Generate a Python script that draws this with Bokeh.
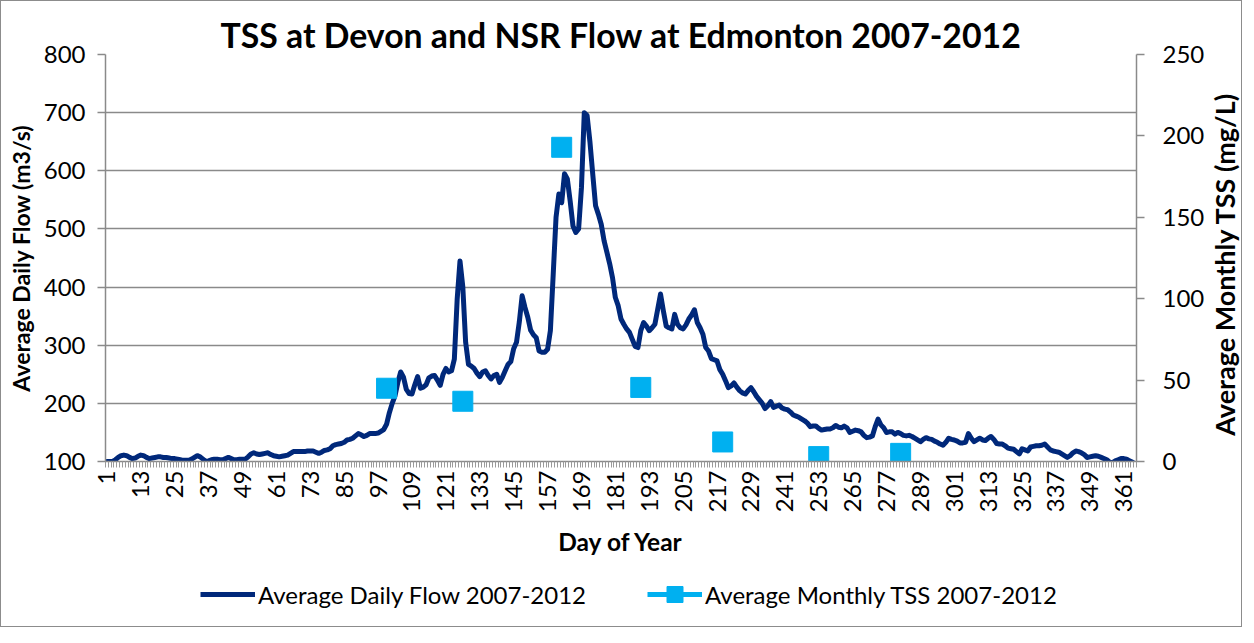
import math
from bokeh.plotting import figure
from bokeh.layouts import column, row
from bokeh.models import (Range1d, LinearAxis, FixedTicker, Legend, LegendItem,
                          Label, ColumnDataSource)
from bokeh.embed import file_html
from bokeh.resources import INLINE

# ---------------- data ----------------
days = list(range(1, 366))
flow = [
    100, 100, 100, 103, 107, 110, 111, 110, 107, 105,
    106, 109, 111, 110, 107, 105, 106, 107, 108, 108,
    107, 107, 106, 105, 105, 104, 103, 102, 102, 102,
    104, 107, 110, 108, 104, 100, 101, 103, 104, 104,
    103, 103, 105, 107, 105, 103, 103, 104, 104, 104,
    108, 113, 115, 113, 112, 113, 114, 115, 112, 110,
    109, 108, 109, 110, 111, 114, 117, 117, 117, 117,
    117, 118, 118, 118, 116, 114, 116, 119, 120, 122,
    127, 129, 130, 131, 133, 137, 138, 140, 144, 148,
    146, 143, 145, 148, 148, 148, 149, 152, 155, 164,
    184, 200, 213, 236, 254, 245, 224, 217, 216, 232,
    246, 226, 228, 232, 244, 247, 248, 240, 231, 250,
    260, 254, 256, 276, 379, 445, 400, 305, 267, 264,
    260, 252, 246, 254, 256, 248, 242, 248, 250, 236,
    245, 256, 267, 272, 294, 305, 340, 385, 365, 348,
    326, 318, 313, 290, 288, 288, 293, 325, 422, 520,
    560, 545, 595, 586, 548, 505, 494, 500, 571, 700,
    695, 650, 594, 540, 525, 508, 480, 460, 440, 416,
    382, 368, 345, 336, 328, 322, 310, 298, 296, 325,
    339, 333, 325, 330, 336, 362, 388, 359, 333, 330,
    328, 353, 336, 330, 328, 335, 345, 352, 361, 339,
    330, 319, 296, 290, 277, 275, 273, 258, 250, 239,
    227, 230, 235, 228, 222, 218, 216, 222, 227, 220,
    212, 206, 200, 191, 196, 203, 193, 195, 197, 192,
    190, 189, 185, 180, 178, 176, 173, 170, 166, 160,
    161, 161, 157, 154, 155, 156, 156, 158, 162, 159,
    158, 161, 158, 150, 152, 154, 153, 151, 145, 141,
    142, 144, 160, 173, 163, 158, 150, 151, 151, 147,
    150, 148, 145, 144, 145, 143, 140, 137, 134, 138,
    141, 139, 138, 135, 133, 130, 128, 133, 140, 138,
    137, 135, 132, 132, 133, 148, 140, 134, 137, 140,
    137, 136, 140, 143, 138, 131, 130, 130, 127, 123,
    122, 121, 117, 113, 122, 120, 118, 125, 126, 127,
    127, 128, 130, 125, 120, 118, 117, 116, 113, 110,
    107, 110, 115, 118, 117, 115, 112, 107, 108, 109,
    110, 109, 107, 105, 103, 99, 98, 101, 103, 105,
    105, 104, 101, 99, 96,
]
tss_days = [100, 127, 162, 190, 219, 253, 282]
tss_vals = [45, 37, 193, 45.5, 12, 3, 5]
x_tick_labels = list(range(1, 366, 12))
flow_ticks = list(range(100, 801, 100))
tss_ticks = list(range(0, 251, 50))

title_text = "TSS at Devon and NSR Flow at Edmonton 2007-2012"
flow_name = "Average Daily Flow 2007-2012"
tss_name = "Average Monthly TSS 2007-2012"
x_title = "Day of Year"
y_title = "Average Daily Flow (m3/s)"
y2_title = "Average Monthly TSS (mg/L)"

# ---------------- styling ----------------
FONT = "Lato"
GRID = "#8a8a8a"
NAVY = "#00287a"
CYAN = "#00b0f0"
TICK_FS = "24px"
W = 1240          # whole chart width
RW = 34           # strip holding the right-hand axis title
PW = W - RW       # main plot width
TOP, BOT, LEFT = 53, 106, 104
FRAME_RIGHT = 1140

p = figure(width=PW, height=566, output_backend="svg", toolbar_location=None,
           x_range=Range1d(0.5, 365.5), y_range=Range1d(100, 800),
           min_border_left=LEFT, min_border_right=PW - FRAME_RIGHT,
           min_border_top=TOP, min_border_bottom=BOT)
p.extra_y_ranges = {"tss": Range1d(0, 250)}
p.outline_line_color = None
p.background_fill_color = "white"
p.border_fill_color = "white"

p.title.text = title_text
p.title.align = "center"
p.title.text_font = FONT
p.title.text_font_size = "33.8px"
p.title.text_font_style = "bold"
p.title.text_color = "black"
p.title.standoff = 0

p.xgrid.visible = False
p.ygrid.grid_line_color = GRID
p.ygrid.grid_line_width = 1.5
p.ygrid.ticker = FixedTicker(ticks=flow_ticks)

# left axis
ya = p.yaxis[0]
ya.ticker = FixedTicker(ticks=flow_ticks)
ya.axis_line_color = GRID
ya.axis_line_width = 1.5
ya.major_tick_line_color = GRID
ya.major_tick_line_width = 1.5
ya.major_tick_out = 8
ya.major_tick_in = 0
ya.minor_tick_line_color = None
ya.major_label_text_font = FONT
ya.major_label_text_font_size = TICK_FS
ya.major_label_text_color = "black"
ya.major_label_standoff = 12
ya.axis_label = y_title
ya.axis_label_text_font = FONT
ya.axis_label_text_font_size = "23px"
ya.axis_label_text_font_style = "bold"
ya.axis_label_text_color = "black"
ya.axis_label_standoff = 6

# right axis
ra = LinearAxis(y_range_name="tss", ticker=FixedTicker(ticks=tss_ticks))
ra.axis_line_color = GRID
ra.axis_line_width = 1.5
ra.major_tick_line_color = GRID
ra.major_tick_line_width = 1.5
ra.major_tick_out = 8
ra.major_tick_in = 0
ra.minor_tick_line_color = None
ra.major_label_text_font = FONT
ra.major_label_text_font_size = TICK_FS
ra.major_label_text_color = "black"
ra.major_label_standoff = 18
p.add_layout(ra, "right")

# bottom axis
xa = p.xaxis[0]
xa.ticker = FixedTicker(ticks=x_tick_labels,
                        minor_ticks=[d + 0.5 for d in range(0, 366)])
xa.axis_line_color = GRID
xa.axis_line_width = 1.5
xa.major_tick_line_color = None
xa.major_tick_out = 6
xa.major_tick_in = 0
xa.minor_tick_line_color = "#9a9a9a"
xa.minor_tick_line_width = 1
xa.minor_tick_out = 6
xa.minor_tick_in = 0
xa.major_label_orientation = math.pi / 2
xa.major_label_text_font = FONT
xa.major_label_text_font_size = TICK_FS
xa.major_label_text_color = "black"
xa.major_label_standoff = 3
xa.axis_label = x_title
xa.axis_label_text_font = FONT
xa.axis_label_text_font_size = "24.5px"
xa.axis_label_text_font_style = "bold"
xa.axis_label_text_color = "black"
xa.axis_label_standoff = 12

# ---------------- glyphs ----------------
flow_src = ColumnDataSource(dict(day=days, flow=flow))
tss_src = ColumnDataSource(dict(day=tss_days, tss=tss_vals))

p.line("day", "flow", source=flow_src, line_color=NAVY, line_width=5,
       line_join="round", line_cap="round")
p.scatter("day", "tss", source=tss_src, y_range_name="tss", marker="square",
          size=20, fill_color=CYAN, line_color=CYAN)

# ---------------- right-hand axis title strip ----------------
rf = figure(width=RW, height=566, output_backend="svg", toolbar_location=None,
            x_range=Range1d(0, 1), y_range=Range1d(0, 1),
            x_axis_type=None, y_axis_type=None,
            min_border_left=0, min_border_right=0,
            min_border_top=TOP, min_border_bottom=BOT)
rf.outline_line_color = None
rf.xgrid.visible = False
rf.ygrid.visible = False
rf.add_layout(Label(x=0.5, y=0.485, text=y2_title, angle=math.pi / 2,
                    text_align="center", text_baseline="middle",
                    text_font=FONT, text_font_size="27px",
                    text_font_style="bold", text_color="black"))

# ---------------- legend strip ----------------
lf = figure(width=W, height=59, output_backend="svg", toolbar_location=None,
            x_range=Range1d(0, 1), y_range=Range1d(0, 1),
            x_axis_type=None, y_axis_type=None,
            min_border_left=LEFT, min_border_right=W - FRAME_RIGHT,
            min_border_top=0, min_border_bottom=0)
lf.outline_line_color = None
lf.xgrid.visible = False
lf.ygrid.visible = False
nan = float("nan")
lg_flow = lf.line(x=[nan], y=[nan], line_color=NAVY, line_width=5)
lg_tss_line = lf.line(x=[nan], y=[nan], line_color=CYAN, line_width=5)
lg_tss_mark = lf.scatter(x=[nan], y=[nan], marker="square", size=20,
                         fill_color=CYAN, line_color=CYAN)

legend = Legend(items=[LegendItem(label=flow_name, renderers=[lg_flow]),
                       LegendItem(label=tss_name, renderers=[lg_tss_line, lg_tss_mark])],
                orientation="horizontal", location=(95, 12))
legend.label_text_font = FONT
legend.label_text_font_size = "24px"
legend.label_text_color = "black"
legend.glyph_width = 55
legend.glyph_height = 40
legend.label_standoff = 3
legend.spacing = 61
legend.padding = 0
legend.margin = 0
legend.border_line_color = None
legend.background_fill_alpha = 0
lf.add_layout(legend, "center")

layout = column(row(p, rf, spacing=0), lf, spacing=0,
                styles={"border": "1px solid #8c8c8c"})

open("out.html", "w").write(file_html(layout, INLINE))
